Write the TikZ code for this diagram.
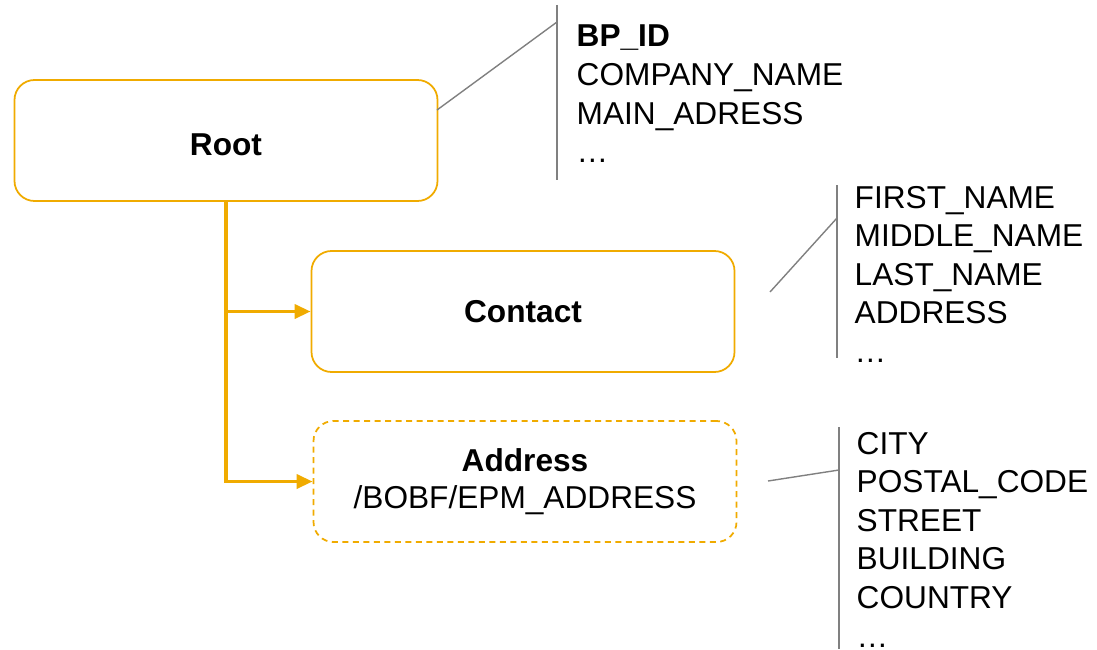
\documentclass[tikz,border=0pt]{standalone}
\usepackage{fontspec}
\setmainfont{Liberation Sans}
\usetikzlibrary{arrows.meta}

\definecolor{sapgold}{HTML}{F0AB00}
\definecolor{leadgray}{HTML}{808080}

\tikzset{
	nodebox/.style={draw=sapgold, line width=0.5pt, rounded corners=2mm, minimum width=42.3mm, minimum height=12.1mm, align=center, font=\fontsize{9}{10.6}\selectfont},
	link/.style={draw=sapgold, line width=1pt, -{Triangle[length=1.6mm, width=1.4mm]}},
	lead/.style={draw=leadgray, line width=0.4pt},
	field/.style={anchor=base west, inner sep=0pt, font=\fontsize{9}{11}\selectfont}
}

\begin{document}
\begin{tikzpicture}[x=0.1mm, y=-0.1mm]
	\useasboundingbox (0,0) rectangle (1097,649);

	% the three entity nodes
	\node[nodebox, text height=2.9mm, text depth=0pt] (root) at (226,140.5) {\textbf{Root}};
	\node[nodebox] (contact) at (523,311.5) {\textbf{Contact}};
	\node[nodebox, dash pattern=on 0.6mm off 0.45mm] (address) at (525,481.5) {\textbf{Address}\\/BOBF/EPM\_ADDRESS};

	\draw[link] (root.south) |- (contact.west);
	\draw[link] (root.south) |- (address.west);

	% attribute lists
	\foreach \t [count=\i from 0] in {\textbf{BP\_ID}, COMPANY\_NAME, MAIN\_ADRESS, …} {
		\node[field] (bp\i) at (576,47+\i*38.6) {\t};
	}
	\foreach \t [count=\i from 0] in {FIRST\_NAME, MIDDLE\_NAME, LAST\_NAME, ADDRESS, …} {
		\node[field] (ct\i) at (854,208+\i*38.6) {\t};
	}
	\foreach \t [count=\i from 0] in {CITY, POSTAL\_CODE, STREET, BUILDING, COUNTRY, …} {
		\node[field] (ad\i) at (856,454+\i*38.6) {\t};
	}

	% bars and leader lines
	\coordinate (rootbarA) at (557,5);
	\coordinate (rootbarB) at (557,180);
	\coordinate (rootfoot) at (557,22);
	\coordinate (roottip) at (437,110);
	\draw[lead] (rootbarA) -- (rootbarB);
	\draw[lead] (roottip) -- (rootfoot);

	\coordinate (ctbarA) at (837,185);
	\coordinate (ctbarB) at (837,358);
	\coordinate (ctfoot) at (837,218);
	\coordinate (cttip) at (770,292);
	\draw[lead] (ctbarA) -- (ctbarB);
	\draw[lead] (cttip) -- (ctfoot);

	\coordinate (adbarA) at (839,427);
	\coordinate (adbarB) at (839,649);
	\coordinate (adfoot) at (839,470);
	\coordinate (adtip) at (768,481);
	\draw[lead] (adbarA) -- (adbarB);
	\draw[lead] (adtip) -- (adfoot);
\end{tikzpicture}
\end{document}
